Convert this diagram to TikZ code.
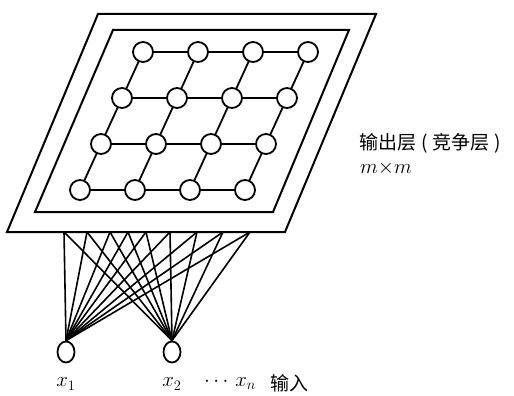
\documentclass[tikz,border=0pt]{standalone}
\usepackage{fontspec}
\newfontfamily\cjk{Noto Sans CJK SC}
\usetikzlibrary{shapes.geometric}
\tikzset{
  frame/.style={line width=2pt, line join=miter},
  neuron/.style={circle, draw, line width=1.8pt, fill=white, minimum size=20pt, inner sep=0pt},
  inputnode/.style={ellipse, draw, line width=1.8pt, fill=white, minimum width=17pt, minimum height=21pt, inner sep=0pt},
  link/.style={line width=1.8pt},
  wire/.style={line width=1.6pt},
  lbl/.style={inner sep=0pt, font=\huge},
  cjklbl/.style={inner sep=0pt, font=\cjk\fontsize{19}{22}\selectfont}
}
\begin{document}
\begin{tikzpicture}[x=1pt,y=-1pt]
\useasboundingbox (0,0) rectangle (514,396);
% frames
\draw[frame] (98,14) -- (376,14) -- (285,232) -- (7,232) -- cycle;
\draw[frame] (113,30) -- (349,30) -- (273,212) -- (35,212) -- cycle;
% grid links (drawn first, nodes on top)
\foreach \r in {0,...,3}{
  \foreach \c in {0,...,3}{
    \coordinate (g\r\c) at ({143+55*\c-21*\r},{52+46*\r});
  }
}
\foreach \r in {0,...,3}{
  \draw[link] (g\r0) -- (g\r1) -- (g\r2) -- (g\r3);
}
\foreach \c in {0,...,3}{
  \draw[link] (g0\c) -- (g1\c) -- (g2\c) -- (g3\c);
}
\foreach \r in {0,...,3}{
  \foreach \c in {0,...,3}{
    \node[neuron] (n\r\c) at (g\r\c) {};
  }
}
% inputs
\node[inputnode] (in1) at (66,352) {};
\node[inputnode] (in2) at (172,352) {};
% connector top points on the bottom edge of the outer frame
\foreach \i/\x in {1/64,2/87,3/110,4/128,5/146,6/170,7/197,8/223,9/250}{
  \coordinate (t\i) at (\x,232);
  \draw[wire] (t\i) -- (in1.north);
  \draw[wire] (t\i) -- (in2.north);
}
% labels
\node[lbl] (l1) at (66,384) {$x_1$};
\node[lbl] (l2) at (172,384) {$x_2$};
\node[lbl] (ln) at (230,383) {$\cdots\,x_n$};
\node[cjklbl] (lin) at (289,383) {输入};
\node[cjklbl, anchor=west] (lout) at (359,143) {输出层\hspace{5pt}(\hspace{5pt}竞争层\hspace{5pt})};
\node[lbl, anchor=west] (lmm) at (360,168) {$m{\times}m$};
\end{tikzpicture}
\end{document}
